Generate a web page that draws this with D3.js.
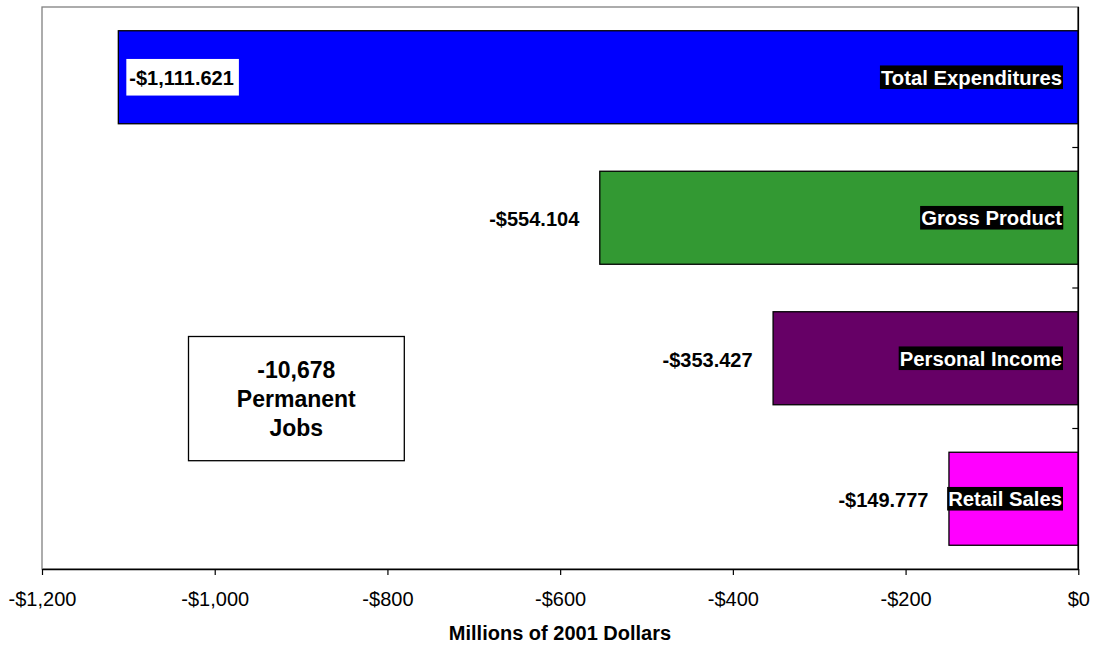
<!DOCTYPE html>
<html><head><meta charset="utf-8">
<script src="https://cdn.jsdelivr.net/npm/d3@7"></script>
<style>body{margin:0;background:#fff;font-family:Arial,"Liberation Sans",sans-serif;}</style>
</head><body>
<svg id="c" width="1095" height="645"></svg>
<script>
const categories = ["Total Expenditures","Gross Product","Personal Income","Retail Sales"];
const values = [-1111.621,-554.104,-353.427,-149.777];
const valueLabels = ["-$1,111.621","-$554.104","-$353.427","-$149.777"];
const colors = ["#0000FF","#339933","#660066","#FF00FF"];
const xTicks = [-1200,-1000,-800,-600,-400,-200,0];
const jobsLines = ["-10,678","Permanent","Jobs"];

const FONT = "Arial,'Liberation Sans',sans-serif";
const svg = d3.select("#c");
const L=42,R=1078.3,T=7,B=569;
const x = d3.scaleLinear().domain([-1200,0]).range([L,R]);
const y = d3.scaleBand().domain(categories).range([T,B]).paddingInner(0.338).paddingOuter(0.169);

// plot border
svg.append("rect").attr("x",L).attr("y",T).attr("width",R-L).attr("height",B-T)
  .attr("fill","none").attr("stroke","#808080").attr("stroke-width",1.3);

// bars
svg.selectAll("rect.bar").data(categories).enter().append("rect").attr("class","bar")
  .attr("x",(d,i)=>x(values[i])).attr("y",d=>y(d))
  .attr("width",(d,i)=>x(0)-x(values[i])).attr("height",y.bandwidth())
  .attr("fill",(d,i)=>colors[i]).attr("stroke","#000").attr("stroke-width",1.3);

// x axis
const xa = svg.append("g").attr("transform",`translate(0,${B})`)
  .call(d3.axisBottom(x).tickValues(xTicks).tickSizeInner(6).tickSizeOuter(0).tickPadding(17)
    .tickFormat(d=> d===0 ? "$0" : "-$"+d3.format(",")(-d)));
xa.select(".domain").attr("stroke","#000").attr("stroke-width",1.6);
xa.selectAll("text").attr("font-size","20px").attr("font-family",FONT).attr("fill","#000");
xa.selectAll("line").attr("stroke","#000").attr("stroke-width",1.2);

// y axis (right, at x=0)
const bounds = [1,2,3].map(i=>y(categories[i]) - y.step()*y.paddingInner()/2);
const ya = svg.append("g");
ya.append("line").attr("x1",R).attr("x2",R).attr("y1",T).attr("y2",B).attr("stroke","#000").attr("stroke-width",1.6);
ya.selectAll("line.t").data(bounds).enter().append("line").attr("class","t")
  .attr("x1",R-6).attr("x2",R).attr("y1",d=>d).attr("y2",d=>d).attr("stroke","#000").attr("stroke-width",1.2);

// category labels (inside end, black bg)
categories.forEach((c,i)=>{
  const cy = y(c)+y.bandwidth()/2;
  const t = svg.append("text").attr("x",1062).attr("y",cy+7.5).attr("text-anchor","end")
    .attr("font-family",FONT).attr("font-size","20.3px").attr("font-weight","bold").attr("fill","#fff").text(c);
  const bb = t.node().getBBox();
  svg.insert("rect", ()=>t.node()).attr("x",bb.x-1).attr("y",cy-11.8).attr("width",bb.width+2).attr("height",23.6).attr("fill","#000");
});

// value labels
categories.forEach((c,i)=>{
  const cy = y(c)+y.bandwidth()/2;
  if(i===0){
    const t = svg.append("text").attr("x",x(values[i])+11).attr("y",cy+7.8).attr("text-anchor","start")
      .attr("font-family",FONT).attr("font-size","20px").attr("font-weight","bold").attr("fill","#000").text(valueLabels[i]);
    const bb = t.node().getBBox();
    svg.insert("rect", ()=>t.node()).attr("x",bb.x-3).attr("y",cy-18.3).attr("width",bb.width+8).attr("height",36.6).attr("fill","#fff");
  } else {
    svg.append("text").attr("x",x(values[i])-20.5).attr("y",cy+8.5).attr("text-anchor","end")
      .attr("font-family",FONT).attr("font-size","20px").attr("font-weight","bold").attr("fill","#000").text(valueLabels[i]);
  }
});

// jobs box
svg.append("rect").attr("x",188.5).attr("y",336.5).attr("width",215.8).attr("height",124.2)
  .attr("fill","#fff").attr("stroke","#000").attr("stroke-width",1.3);
jobsLines.forEach((s,i)=>{
  svg.append("text").attr("x",296.3).attr("y",377.7+i*28.9).attr("text-anchor","middle")
    .attr("font-family",FONT).attr("font-size","23px").attr("font-weight","bold").attr("fill","#000").text(s);
});

// axis title
svg.append("text").attr("x",560).attr("y",640).attr("text-anchor","middle")
  .attr("font-family",FONT).attr("font-size","20px").attr("font-weight","bold").attr("fill","#000").text("Millions of 2001 Dollars");
</script>
</body></html>
